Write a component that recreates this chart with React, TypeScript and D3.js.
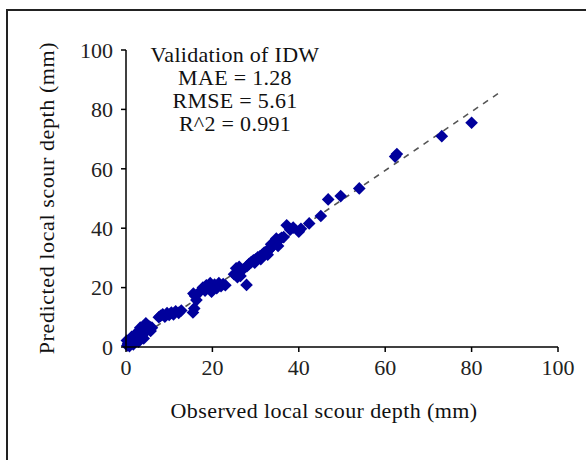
import * as d3 from 'd3';

const observed = [
    0.3, 0.5, 0.8, 1.0, 1.2, 1.5, 1.8, 2.0, 2.2, 2.5, 2.8, 3.0, 3.2, 3.5, 3.6, 3.8, 4.0, 4.2, 4.4, 4.6,
    4.8, 5.0, 5.2, 5.5, 6.0, 1.3, 2.6, 3.3, 0.6, 0.2, 1.7, 2.9, 4.1, 5.7,
    7.6, 8.0, 8.5, 9.0, 9.5, 10.0, 10.5, 11.0, 11.5, 12.2, 12.8,
    15.5, 15.8, 15.6, 16.3, 16.0, 17.0, 17.8, 18.3, 19.0, 19.5, 20.0, 20.5, 21.0, 21.5, 22.0, 22.5, 23.0,
    19.8, 18.6,
    25.0, 25.5, 26.0, 26.2, 25.8, 26.5, 27.9, 27.0, 28.0, 28.5, 29.0, 29.5, 30.0, 30.5, 31.0, 31.5, 32.0,
    32.5, 33.0, 33.5, 34.0, 34.5, 35.0, 35.5, 36.0, 34.8, 33.6, 36.5, 37.2, 38.0, 38.7, 40.0, 40.5,
    29.8, 31.2, 32.8, 35.2,
    42.4, 45.1, 46.8, 49.7, 54.0, 62.3, 62.7, 73.1, 80.0,
];
const predicted = [
    0.5, 1.2, 0.3, 2.0, 1.0, 2.6, 1.5, 3.2, 2.0, 3.8, 2.5, 4.5, 3.0, 5.2, 3.6, 6.0, 4.4, 7.0, 5.0, 8.0,
    5.6, 7.2, 6.2, 6.8, 6.5, 3.4, 5.0, 6.5, 0.8, 2.2, 0.9, 1.8, 2.9, 5.4,
    10.0, 10.5, 11.0, 10.2, 11.4, 10.8, 11.6, 11.0, 12.0, 11.5, 12.3,
    11.6, 13.0, 18.0, 15.8, 17.2, 18.5, 20.0, 19.0, 20.5, 21.5, 20.0, 21.0, 19.8, 21.5, 20.5, 21.2, 20.8,
    18.6, 20.8,
    24.5, 26.5, 25.0, 27.0, 23.5, 23.9, 20.9, 26.0, 27.2, 28.0, 28.6, 29.2, 29.5, 30.2, 30.5, 31.0, 31.8,
    32.2, 32.5, 33.3, 34.0, 35.0, 35.5, 36.2, 36.8, 36.5, 34.6, 37.0, 41.0, 39.5, 40.2, 38.8, 39.8,
    28.4, 29.6, 31.1, 34.0,
    41.6, 44.1, 49.7, 50.8, 53.4, 64.1, 65.0, 71.0, 75.5,
];

// fitted trend line end points (dashed)
const trendObserved = [0, 86.3];
const trendPredicted = [0, 85.5];

const axisTicks = [0, 20, 40, 60, 80, 100];
const statsLines = ['Validation of IDW', 'MAE = 1.28', 'RMSE = 5.61', 'R^2 = 0.991'];

const font = 'Liberation Serif';

export default function App() {
    const x = d3.scaleLinear().domain([0, 100]).range([126, 558]);
    const y = d3.scaleLinear().domain([0, 100]).range([347, 50]);

    const marker = d3.symbol(d3.symbolSquare, 80)();
    const trend = d3
        .line<number>()
        .x((d) => x(d))
        .y((_, i) => y(trendPredicted[i]));

    return (
        <svg
            width={586}
            height={460}
            style={{ position: 'absolute', left: 0, top: 0, background: '#fff', fontFamily: font }}>
            <rect x={7} y={10} width={600} height={480} fill='#fff' stroke='#222' strokeWidth={2} />

            {/* trend line */}
            <path
                d={trend(trendObserved) ?? ''}
                fill='none'
                stroke='#555'
                strokeWidth={1.6}
                strokeDasharray='6,6'
            />

            {/* points */}
            <g fill='#00009c'>
                {observed.map((o, i) => (
                    <path
                        key={i}
                        d={marker ?? ''}
                        transform={`translate(${x(o)},${y(predicted[i])}) rotate(45)`}
                    />
                ))}
            </g>

            {/* y axis */}
            <g stroke='#000' strokeWidth={1.5}>
                <line x1={x(0)} x2={x(0)} y1={y(0)} y2={y(100)} />
                {axisTicks.map((t) => (
                    <line key={t} x1={x(0) - 5} x2={x(0)} y1={y(t)} y2={y(t)} />
                ))}
            </g>
            <g fontSize={22} textAnchor='end' fill='#222'>
                {axisTicks.map((t) => (
                    <text key={t} x={x(0) - 13} y={y(t)} dy='0.35em'>
                        {t}
                    </text>
                ))}
            </g>

            {/* x axis */}
            <g stroke='#000' strokeWidth={1.5}>
                <line x1={x(0)} x2={x(100)} y1={y(0)} y2={y(0)} />
                {axisTicks.map((t) => (
                    <line key={t} x1={x(t)} x2={x(t)} y1={y(0)} y2={y(0) + 5} />
                ))}
            </g>
            <g fontSize={22} textAnchor='middle' fill='#222'>
                {axisTicks.map((t) => (
                    <text key={t} x={x(t)} y={y(0) + 28}>
                        {t}
                    </text>
                ))}
            </g>

            {/* axis titles */}
            <text x={324} y={418} fontSize={22} textAnchor='middle' fill='#111' letterSpacing={0.4}>
                Observed local scour depth (mm)
            </text>
            <text
                transform='translate(54,198) rotate(-90)'
                fontSize={22}
                textAnchor='middle'
                fill='#111'
                letterSpacing={0.6}>
                Predicted local scour depth (mm)
            </text>

            {/* stats annotation */}
            <g fontSize={22} textAnchor='middle' fill='#111'>
                {statsLines.map((s, i) => (
                    <text key={s} x={235} y={62 + i * 23} letterSpacing={0.3}>
                        {s}
                    </text>
                ))}
            </g>
        </svg>
    );
}
